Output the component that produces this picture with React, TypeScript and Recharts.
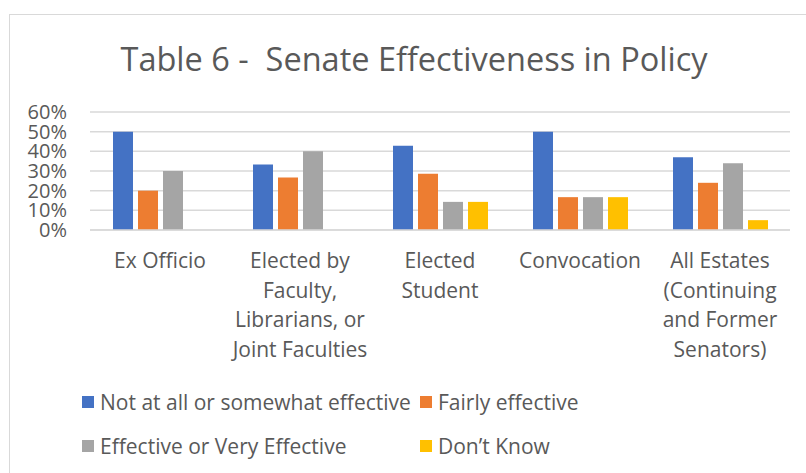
import { BarChart, Bar, XAxis, YAxis, CartesianGrid, Legend } from 'recharts'

const CATEGORIES = [
  'Ex Officio',
  'Elected by Faculty, Librarians, or Joint Faculties',
  'Elected Student',
  'Convocation',
  'All Estates (Continuing and Former Senators)',
]

// how the category labels wrap under the axis
const CATEGORY_LINES = [
  ['Ex Officio'],
  ['Elected by', 'Faculty,', 'Librarians, or', 'Joint Faculties'],
  ['Elected', 'Student'],
  ['Convocation'],
  ['All Estates', '(Continuing', 'and Former', 'Senators)'],
]

const NOT_EFFECTIVE = [50, 33.3, 42.9, 50, 37]
const FAIRLY_EFFECTIVE = [20, 26.7, 28.6, 16.7, 24]
const VERY_EFFECTIVE = [30, 40, 14.3, 16.7, 34]
const DONT_KNOW = [null, null, 14.3, 16.7, 5]

const Y_TICKS = [0, 10, 20, 30, 40, 50, 60]

const SERIES = [
  { key: 'notEffective', name: 'Not at all or somewhat effective', color: '#4472C4' },
  { key: 'fairly', name: 'Fairly effective', color: '#ED7D31' },
  { key: 'effective', name: 'Effective or Very Effective', color: '#A5A5A5' },
  { key: 'dontKnow', name: 'Don\u2019t Know', color: '#FFC000' },
]

const data = CATEGORIES.map((c, i) => ({
  category: c,
  notEffective: NOT_EFFECTIVE[i],
  fairly: FAIRLY_EFFECTIVE[i],
  effective: VERY_EFFECTIVE[i],
  dontKnow: DONT_KNOW[i],
}))

const FONT = '"Open Sans", sans-serif'
const TEXT = '#595959'

function CategoryTick({ x, y, payload }: any) {
  const lines = CATEGORY_LINES[CATEGORIES.indexOf(payload.value)] ?? [payload.value]
  return (
    <text x={x} y={y + 30} textAnchor="middle" fill={TEXT} fontSize={21} fontFamily={FONT}>
      {lines.map((l, i) => (
        <tspan key={i} x={x} dy={i === 0 ? 0 : 29.5}>{l}</tspan>
      ))}
    </text>
  )
}

// legend always in series order, two per row like the original
function LegendBlock() {
  return (
    <div style={{
      height: 103, boxSizing: 'border-box', paddingTop: 10, paddingLeft: 82,
      display: 'grid', gridTemplateColumns: '338px 338px', gridAutoRows: '44px',
      fontFamily: FONT, fontSize: 21, color: TEXT,
    }}>
      {SERIES.map(s => (
        <div key={s.key} style={{ display: 'flex', alignItems: 'center', whiteSpace: 'nowrap' }}>
          <span style={{ width: 12, height: 12, background: s.color, marginRight: 6, flexShrink: 0 }} />
          <span>{s.name}</span>
        </div>
      ))}
    </div>
  )
}

export default function App() {
  return (
    <div style={{ position: 'absolute', left: 0, top: 0, width: 806, height: 473, background: '#fff', overflow: 'hidden' }}>
      <div style={{
        position: 'absolute', left: 9, top: 14, width: 820, height: 480,
        border: '1.5px solid #D9D9D9', boxSizing: 'border-box',
      }} />
      <svg width={806} height={100} style={{ position: 'absolute', left: 0, top: 0 }}>
        <text x={414} y={71} textAnchor="middle" fill={TEXT} fontSize={32.5} fontFamily={FONT}
          style={{ whiteSpace: 'pre' }}>
          {'Table 6 -  Senate Effectiveness in Policy'}
        </text>
      </svg>
      <div style={{ position: 'absolute', left: 0, top: 0 }}>
        <BarChart
          width={806}
          height={473}
          data={data}
          margin={{ top: 112, right: 16, bottom: 0, left: 0 }}
          barSize={20}
          barGap={5}
        >
          <CartesianGrid vertical={false} stroke="#D9D9D9" strokeWidth={1.5} />
          <XAxis
            dataKey="category"
            height={140}
            axisLine={{ stroke: '#D9D9D9', strokeWidth: 1.5 }}
            tickLine={false}
            interval={0}
            tick={<CategoryTick />}
          />
          <YAxis
            width={90}
            domain={[0, 60]}
            ticks={Y_TICKS}
            interval={0}
            tickFormatter={(v: number) => `${v}%`}
            axisLine={false}
            tickLine={false}
            tickSize={6}
            tickMargin={17}
            tick={{ fill: TEXT, fontSize: 20, fontFamily: FONT }}
          />
          <Legend verticalAlign="bottom" wrapperStyle={{ left: 0, width: 806 }} content={<LegendBlock />} />
          {SERIES.map(s => (
            <Bar key={s.key} dataKey={s.key} name={s.name} fill={s.color} isAnimationActive={false} />
          ))}
        </BarChart>
      </div>
    </div>
  )
}
